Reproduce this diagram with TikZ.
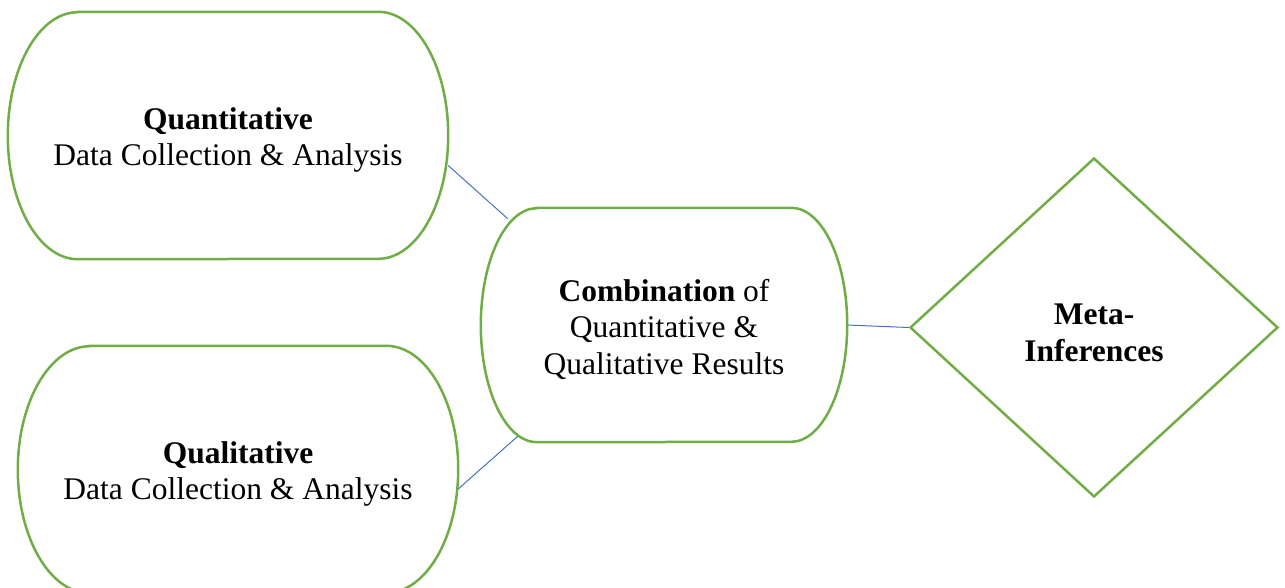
\documentclass[tikz,border=0pt]{standalone}
\usepackage{fontspec}
\setmainfont{Liberation Serif}
\usetikzlibrary{shapes.geometric}

\definecolor{ovalgreen}{HTML}{70AD47}
\definecolor{linkblue}{HTML}{4472C4}
\newcommand{\boxstrut}{\rule{0pt}{31pt}}

\begin{document}
\begin{tikzpicture}
  [x=1pt,y=-1pt,
   every node/.style={align=center,inner sep=0pt,font=\fontsize{31.5}{36.5}\selectfont},
   ovalbox/.style={rectangle,minimum width=#1},
   decision/.style={diamond,draw=ovalgreen,line width=2.5pt,minimum width=368pt,minimum height=339pt},
   outline/.style={draw=ovalgreen,line width=2.5pt},
   link/.style={draw=linkblue,line width=1pt}]
  \useasboundingbox (0,0) rectangle (1285,588);

  \node[ovalbox=440pt,minimum height=247pt] (quant) at (228,135.5) {\boxstrut\textbf{Quantitative}\\Data Collection \& Analysis};
  \node[ovalbox=440pt,minimum height=247pt] (qual)  at (238,469.5) {\boxstrut\textbf{Qualitative}\\Data Collection \& Analysis};
  \node[ovalbox=366pt,minimum height=234pt] (comb)  at (664,325)   {\boxstrut\textbf{Combination} of\\Quantitative \&\\Qualitative Results};
  \node[decision] (meta) at (1094,327.5) {\boxstrut\textbf{Meta-}\\\textbf{Inferences}};

  % rounded outlines of the three boxes
  \foreach \n/\rx/\ry in {quant/70/123.5,qual/72/123.5,comb/56/117}
    \draw[outline] ([xshift=\rx pt]\n.north west) -- ([xshift=-\rx pt]\n.north east)
      arc[start angle=90,end angle=-90,x radius=\rx pt,y radius=\ry pt]
      -- ([xshift=\rx pt]\n.south west)
      arc[start angle=270,end angle=90,x radius=\rx pt,y radius=\ry pt] -- cycle;

  \draw[link] ([yshift=-30pt]quant.east) -- ([shift={(27pt,-11pt)}]comb.north west);
  \draw[link] ([yshift=-19.5pt]qual.east) -- ([shift={(37pt,6pt)}]comb.south west);
  \draw[link] (comb.east) -- (meta.west);

\end{tikzpicture}
\end{document}
